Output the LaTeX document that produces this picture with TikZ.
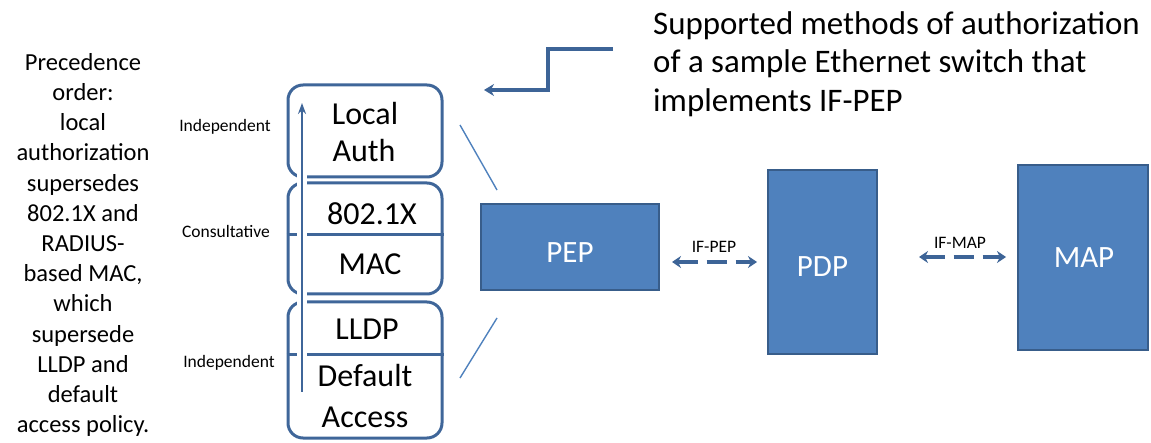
\documentclass[tikz,border=0pt]{standalone}
\usepackage{fontspec}
\setmainfont{Carlito}
\usetikzlibrary{arrows.meta}
\definecolor{boxfill}{HTML}{4F81BD}
\definecolor{boxedge}{HTML}{385D8A}
\definecolor{stackblue}{HTML}{3F6699}
\definecolor{arrowblue}{HTML}{3D6497}
\definecolor{thinblue}{HTML}{4F81BD}
\begin{document}
\begin{tikzpicture}[x=1pt,y=-1pt,
  rbox/.style={draw=stackblue, line width=3pt, rounded corners=15pt, minimum width=154pt, inner sep=0pt},
  block/.style={draw=boxedge, fill=boxfill, line width=2.2pt, inner sep=0pt},
  blocktext/.style={text=white, inner sep=0pt, font=\fontsize{31}{37}\selectfont},
  big/.style={inner sep=0pt, font=\fontsize{32}{38}\selectfont},
  small/.style={inner sep=0pt, font=\fontsize{17.5}{21}\selectfont},
  divider/.style={draw=stackblue, line width=3pt},
  dasharrow/.style={draw=arrowblue, line width=3.5pt, dash pattern=on 20pt off 9pt,
     {Stealth[length=9pt,width=12pt]}-{Stealth[length=9pt,width=12pt]}},
  thinline/.style={draw=thinblue, line width=1.4pt}
]
\useasboundingbox (0,0) rectangle (1151,443);

% left explanation
\node[inner sep=0pt, anchor=north, align=center, font=\fontsize{24.5}{30.2}\selectfont] (prec) at (83,53)
 {Precedence\\order:\\local\\authorization\\supersedes\\802.1X and\\RADIUS-\\based MAC,\\which\\supersede\\LLDP and\\default\\access policy.};

% side labels
\node[small, anchor=base] (ind1) at (225,132) {Independent};
\node[small, anchor=base] (cons) at (226,238) {Consultative};
\node[small, anchor=base] (ind2) at (229,368) {Independent};

% stack of rounded boxes
\node[rbox, minimum height=92pt] (la) at (365,131) {};
\node[rbox, minimum height=111pt] (mid) at (365,238.5) {};
\node[rbox, minimum height=136pt] (bot) at (365,370) {};
\draw[divider] (mid.west |- 0,235) -- (mid.east |- 0,235);
\draw[divider] (bot.west |- 0,355) -- (bot.east |- 0,355);

\node[big, anchor=base] (local) at (365,125) {Local};
\node[big, anchor=base] (auth) at (364,162) {Auth};
\node[big, anchor=base] (dot1x) at (372,225) {802.1X};
\node[big, anchor=base] (mac) at (370,275) {MAC};
\node[big, anchor=base] (lldp) at (367,340) {LLDP};
\node[big, anchor=base] (def) at (365,387) {Default};
\node[big, anchor=base] (acc) at (365,428) {Access};

% precedence arrow with white outline
\coordinate (pa1) at (302,392);
\coordinate (pa2) at (302,103);
\draw[white, line width=10pt] (pa1) -- ([yshift=-2pt]pa2);
\draw[draw=stackblue, line width=2.5pt, -{Stealth[length=11pt,width=8pt]}] (pa1) -- (pa2);

% right blocks
\node[block, minimum width=178pt, minimum height=86pt] (pep) at (570,247) {};
\node[blocktext] (peptext) at (570,253) {PEP};
\node[block, minimum width=109pt, minimum height=184pt] (pdp) at (822.5,262) {};
\node[blocktext] (pdptext) at (822.5,267) {PDP};
\node[block, minimum width=130pt, minimum height=185pt] (map) at (1083,257.5) {};
\node[blocktext] (maptext) at (1084,258) {MAP};

% interface arrows
\coordinate (ip1) at (672,262);
\coordinate (ip2) at (757,262);
\draw[dasharrow] (ip1) -- (ip2);
\node[small, anchor=base] (ifpep) at (714,253) {IF-PEP};
\coordinate (im1) at (919,257);
\coordinate (im2) at (1006,257);
\draw[dasharrow] (im1) -- (im2);
\node[small, anchor=base] (ifmap) at (960,249) {IF-MAP};

% thin expansion lines
\coordinate (t1) at (460,125);
\coordinate (t2) at (497,190);
\coordinate (b1) at (460,378);
\coordinate (b2) at (497,318);
\draw[thinline] (t1) -- (t2);
\draw[thinline] (b1) -- (b2);

% title
\node[inner sep=0pt, anchor=north west, align=left, font=\fontsize{32.9}{38.5}\selectfont] (title) at (653,11)
 {Supported methods of authorization\\of a sample Ethernet switch that\\implements IF-PEP};

% elbow arrow
\coordinate (e1) at (613,49);
\coordinate (e2) at (548,49);
\coordinate (e3) at (548,90);
\coordinate (e4) at (484,90);
\draw[draw=arrowblue, line width=3.5pt, -{Stealth[length=10pt,width=12pt]}] (e1) -- (e2) -- (e3) -- (e4);
\end{tikzpicture}
\end{document}
